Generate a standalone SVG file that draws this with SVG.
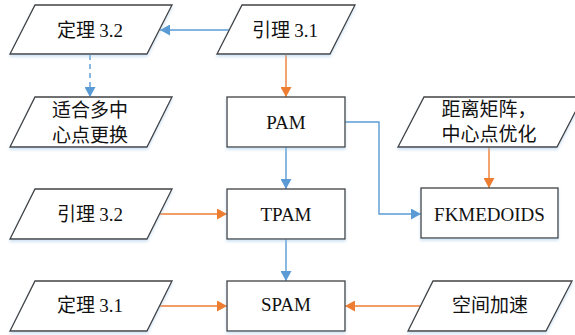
<svg xmlns="http://www.w3.org/2000/svg" width="575" height="335" viewBox="0 0 575 335">
<style>
.shape{fill:#fff;stroke:#404040;stroke-width:1.3;filter:url(#sh)}
.cn{font-family:"Noto Sans CJK SC","Noto Sans",sans-serif;font-size:19px;fill:#111;text-anchor:middle}
.num{font-family:"Liberation Serif","Times New Roman",serif}
.lat{font-family:"Liberation Serif","Times New Roman",serif;font-size:19px;fill:#111;text-anchor:middle}
.blue{fill:none;stroke:#5B9BD5;stroke-width:1.4}
.orange{fill:none;stroke:#ED7D31;stroke-width:1.4}
</style>
<defs>
<filter id="sh" x="-10%" y="-10%" width="120%" height="140%">
<feDropShadow dx="0" dy="2" stdDeviation="1.5" flood-color="#9DC3E6" flood-opacity="0.5"/>
</filter>
<marker id="ab" viewBox="0 0 10 11" refX="10" refY="5.5" markerWidth="10" markerHeight="11" markerUnits="userSpaceOnUse" orient="auto">
<path d="M0,0 L10,5.5 L0,11 z" fill="#5B9BD5"/>
</marker>
<marker id="ao" viewBox="0 0 10 11" refX="10" refY="5.5" markerWidth="10" markerHeight="11" markerUnits="userSpaceOnUse" orient="auto">
<path d="M0,0 L10,5.5 L0,11 z" fill="#ED7D31"/>
</marker>
</defs>
<rect width="575" height="335" fill="#fff"/>
<g id="connectors">
<path class="blue" d="M229,30 H160" marker-end="url(#ab)"/>
<path class="blue" d="M90,55 V97" stroke-dasharray="5,4" marker-end="url(#ab)"/>
<path class="orange" d="M286,55 V97" marker-end="url(#ao)"/>
<path class="blue" d="M286,147 V189" marker-end="url(#ab)"/>
<path class="blue" d="M286,239 V281" marker-end="url(#ab)"/>
<path class="blue" d="M345,122 H379 V214 H421" marker-end="url(#ab)"/>
<path class="orange" d="M489,147 V188" marker-end="url(#ao)"/>
<path class="orange" d="M160,214 H227" marker-end="url(#ao)"/>
<path class="orange" d="M160,306 H227" marker-end="url(#ao)"/>
<path class="orange" d="M421,306 H345" marker-end="url(#ao)"/>
</g>
<g id="dingli32">
<polygon class="shape" points="35,5 172,5 147,54 10,54"/>
<text class="cn" x="90" y="37">定理 <tspan class="num">3.2</tspan></text>
</g>
<g id="yinli31">
<polygon class="shape" points="242,5 355,5 330,54 217,54"/>
<text class="cn" x="285" y="37">引理 <tspan class="num">3.1</tspan></text>
</g>
<g id="shihe">
<polygon class="shape" points="35,97 172,97 147,147 10,147"/>
<text class="cn" x="90" y="116.5">适合多中</text>
<text class="cn" x="90" y="141.5">心点更换</text>
</g>
<g id="pam">
<rect class="shape" x="227" y="97" width="118" height="50"/>
<text class="lat" x="286" y="128.5">PAM</text>
</g>
<g id="juli">
<polygon class="shape" points="424,97 583,97 557,147 398,147"/>
<text class="cn" x="489" y="115.5">距离矩阵，</text>
<text class="cn" x="489" y="141">中心点优化</text>
</g>
<g id="yinli32">
<polygon class="shape" points="35,189 172,189 147,239 10,239"/>
<text class="cn" x="90" y="220.5">引理 <tspan class="num">3.2</tspan></text>
</g>
<g id="tpam">
<rect class="shape" x="227" y="189" width="118" height="50"/>
<text class="lat" x="286" y="220.7">TPAM</text>
</g>
<g id="fkmedoids">
<rect class="shape" x="421" y="188" width="137" height="50"/>
<text class="lat" x="489.5" y="220.7">FKMEDOIDS</text>
</g>
<g id="dingli31">
<polygon class="shape" points="35,281 172,281 147,331 10,331"/>
<text class="cn" x="90" y="312">定理 <tspan class="num">3.1</tspan></text>
</g>
<g id="spam">
<rect class="shape" x="227" y="281" width="118" height="50"/>
<text class="lat" x="286" y="311">SPAM</text>
</g>
<g id="kongjian">
<polygon class="shape" points="433,281 572,281 546,331 408,331"/>
<text class="cn" x="490" y="312">空间加速</text>
</g>
</svg>
